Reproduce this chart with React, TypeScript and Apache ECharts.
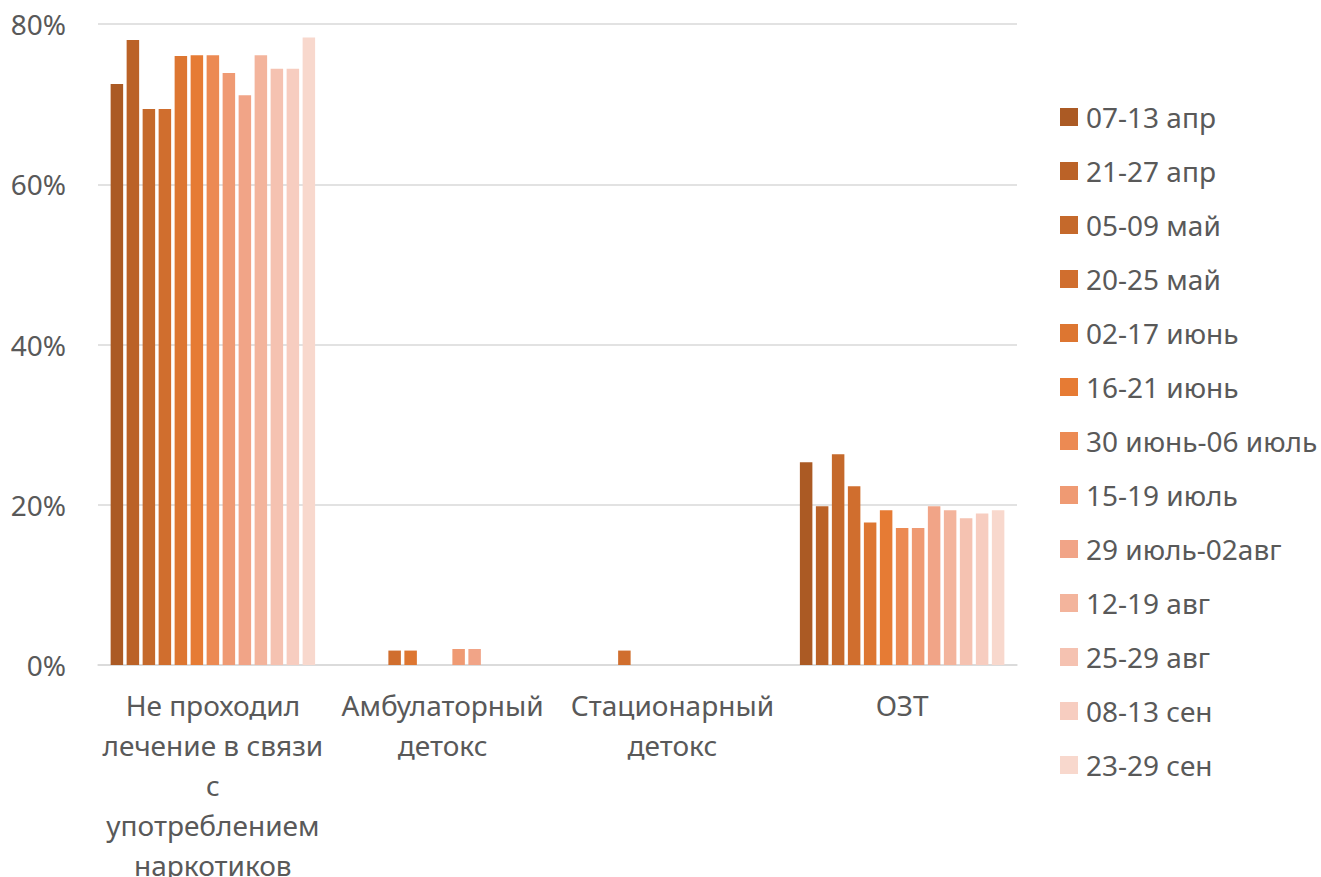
import React, { useEffect, useRef } from "react";
import * as echarts from "echarts";

const categories = [
  "Не проходил\nлечение в связи\nс\nупотреблением\nнаркотиков",
  "Амбулаторный\nдетокс",
  "Стационарный\nдетокс",
  "ОЗТ",
];

const seriesNames = [
  "07-13 апр",
  "21-27 апр",
  "05-09 май",
  "20-25 май",
  "02-17 июнь",
  "16-21 июнь",
  "30 июнь-06 июль",
  "15-19 июль",
  "29 июль-02авг",
  "12-19 авг",
  "25-29 авг",
  "08-13 сен",
  "23-29 сен",
];

// values per series: [Не проходил, Амбулаторный, Стационарный, ОЗТ]
const values: number[][] = [
  [72.5, 0, 0, 25.3],
  [78.0, 0, 0, 19.8],
  [69.4, 0, 0, 26.3],
  [69.4, 1.8, 1.8, 22.3],
  [76.0, 1.8, 0, 17.8],
  [76.1, 0, 0, 19.3],
  [76.1, 0, 0, 17.1],
  [73.9, 2.0, 0, 17.1],
  [71.1, 2.0, 0, 19.8],
  [76.1, 0, 0, 19.3],
  [74.4, 0, 0, 18.3],
  [74.4, 0, 0, 18.9],
  [78.3, 0, 0, 19.3],
];

const colors = [
  "#AB5A24",
  "#BB6227",
  "#C5692B",
  "#D06E2E",
  "#DD7631",
  "#E67B34",
  "#EC8A53",
  "#EF9A73",
  "#F1A487",
  "#F3B49C",
  "#F5C2B1",
  "#F7CDC0",
  "#F8D8CD",
];

const yTicks = [0, 20, 40, 60, 80];

export default function App() {
  const ref = useRef<HTMLDivElement>(null);
  useEffect(() => {
    if (!ref.current) return;
    const chart = echarts.init(ref.current, null, { renderer: "svg" });
    const font = "Noto Sans";
    chart.setOption({
      animation: false,
      backgroundColor: "#ffffff",
      grid: {
        left: 98,
        right: 304,
        top: 24,
        bottom: 212,
        containLabel: false,
        outerBoundsMode: "none",
      },
      legend: {
        orient: "vertical",
        left: 1060,
        top: 103,
        padding: 0,
        itemWidth: 18,
        itemHeight: 18,
        itemGap: 26,
        icon: "rect",
        textStyle: {
          fontFamily: font,
          fontSize: 28,
          color: "#595959",
          lineHeight: 28,
          padding: [0, 0, 0, 3],
        },
        data: seriesNames,
      },
      xAxis: {
        type: "category",
        data: categories,
        axisLine: { lineStyle: { color: "#D9D9D9", width: 1.5 } },
        axisTick: { show: false },
        axisLabel: {
          fontFamily: font,
          fontSize: 28,
          color: "#595959",
          lineHeight: 40,
          margin: 20,
          interval: 0,
        },
      },
      yAxis: {
        type: "value",
        min: yTicks[0],
        max: yTicks[yTicks.length - 1],
        interval: 20,
        axisLine: { show: false },
        axisTick: { show: false },
        splitLine: { lineStyle: { color: "#D9D9D9", width: 1.5 } },
        axisLabel: {
          fontFamily: font,
          fontSize: 28,
          color: "#595959",
          margin: 32,
          formatter: (v: number) => v + "%",
        },
      },
      series: seriesNames.map((name, i) => ({
        name,
        type: "bar",
        data: values[i].map((v) => (v === 0 ? null : v)),
        barGap: "28%",
        barCategoryGap: "11%",
        itemStyle: { color: colors[i] },
      })),
    });
    return () => chart.dispose();
  }, []);
  return (
    <div
      ref={ref}
      style={{ position: "fixed", left: 0, top: 0, width: 1321, height: 877 }}
    />
  );
}
